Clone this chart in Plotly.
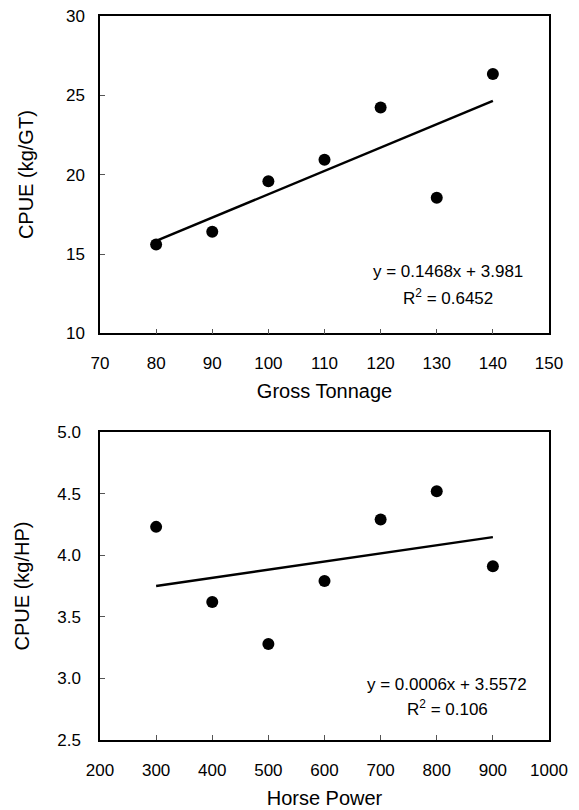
import numpy as np
import plotly.graph_objects as go

# ---- data ----
gt_x = [80, 90, 100, 110, 120, 130, 140]
gt_y = [15.6, 16.4, 19.58, 20.94, 24.23, 18.54, 26.35]
hp_x = [300, 400, 500, 600, 700, 800, 900]
hp_y = [4.23, 3.62, 3.28, 3.79, 4.29, 4.52, 3.91]

gt_eq = "y = 0.1468x + 3.981"
gt_r2 = "R<sup>2</sup> = 0.6452"
hp_eq = "y = 0.0006x + 3.5572"
hp_r2 = "R<sup>2</sup> = 0.106"

gt_xticks = [70, 80, 90, 100, 110, 120, 130, 140, 150]
gt_yticks = [10, 15, 20, 25, 30]
hp_xticks = [200, 300, 400, 500, 600, 700, 800, 900, 1000]
hp_yticks = [2.5, 3.0, 3.5, 4.0, 4.5, 5.0]
hp_yticklabels = ["2.5", "3.0", "3.5", "4.0", "4.5", "5.0"]

# linear fits from the data
gt_fit = np.polyfit(gt_x, gt_y, 1)
hp_fit = np.polyfit(hp_x, hp_y, 1)
gt_line_x = [min(gt_x), max(gt_x)]
hp_line_x = [min(hp_x), max(hp_x)]
gt_line_y = list(np.polyval(gt_fit, gt_line_x))
hp_line_y = list(np.polyval(hp_fit, hp_line_x))

FONT = "Liberation Sans, Arial, sans-serif"
fig = go.Figure()

fig.add_trace(go.Scatter(x=gt_line_x, y=gt_line_y, mode="lines",
                         line=dict(color="black", width=2.5),
                         xaxis="x", yaxis="y", showlegend=False, hoverinfo="skip"))
fig.add_trace(go.Scatter(x=gt_x, y=gt_y, mode="markers",
                         marker=dict(color="black", size=12),
                         xaxis="x", yaxis="y", showlegend=False))
fig.add_trace(go.Scatter(x=hp_line_x, y=hp_line_y, mode="lines",
                         line=dict(color="black", width=2.5),
                         xaxis="x2", yaxis="y2", showlegend=False, hoverinfo="skip"))
fig.add_trace(go.Scatter(x=hp_x, y=hp_y, mode="markers",
                         marker=dict(color="black", size=12),
                         xaxis="x2", yaxis="y2", showlegend=False))

ax_common = dict(showline=True, linecolor="black", linewidth=1.5, mirror=True,
                 ticks="inside", ticklen=5, tickwidth=1, tickcolor="#555",
                 showgrid=False, zeroline=False, automargin=False,
                 ticklabeloverflow="allow",
                 tickfont=dict(family=FONT, size=17, color="black"))

# page body has an 8px margin, so the figure is sized/offset to compensate
fig.update_layout(
    width=571, height=802,
    margin=dict(l=92, r=30, t=8, b=70),
    paper_bgcolor="white", plot_bgcolor="white",
    font=dict(family=FONT, color="black"),
    xaxis=dict(domain=[0, 1], anchor="y", range=[70, 150],
               tickvals=gt_xticks, ticklabelstandoff=14,
               title=dict(text="Gross Tonnage", font=dict(family=FONT, size=20), standoff=12),
               **ax_common),
    yaxis=dict(domain=[0.5617, 1.0], anchor="x", range=[10, 30],
               tickvals=gt_yticks, ticklabelstandoff=10,
               title=dict(text="CPUE (kg/GT)", font=dict(family=FONT, size=20), standoff=27),
               **ax_common),
    xaxis2=dict(domain=[0, 1], anchor="y2", range=[200, 1000],
                tickvals=hp_xticks, ticklabelstandoff=14,
                title=dict(text="Horse Power", font=dict(family=FONT, size=20), standoff=12),
                **ax_common),
    yaxis2=dict(domain=[0, 0.4254], anchor="x2", range=[2.5, 5.0],
                tickvals=hp_yticks, ticktext=hp_yticklabels, ticklabelstandoff=14,
                title=dict(text="CPUE (kg/HP)", font=dict(family=FONT, size=20), standoff=22),
                **ax_common),
)

ann_font = dict(family=FONT, size=17, color="black")
fig.add_annotation(text=gt_eq, xref="x domain", yref="y domain", x=0.775, y=0.194,
                   showarrow=False, font=ann_font, xanchor="center", yanchor="middle")
fig.add_annotation(text=gt_r2, xref="x domain", yref="y domain", x=0.775, y=0.115,
                   showarrow=False, font=ann_font, xanchor="center", yanchor="middle")
fig.add_annotation(text=hp_eq, xref="x2 domain", yref="y2 domain", x=0.773, y=0.179,
                   showarrow=False, font=ann_font, xanchor="center", yanchor="middle")
fig.add_annotation(text=hp_r2, xref="x2 domain", yref="y2 domain", x=0.773, y=0.104,
                   showarrow=False, font=ann_font, xanchor="center", yanchor="middle")

fig.write_html("out.html")
